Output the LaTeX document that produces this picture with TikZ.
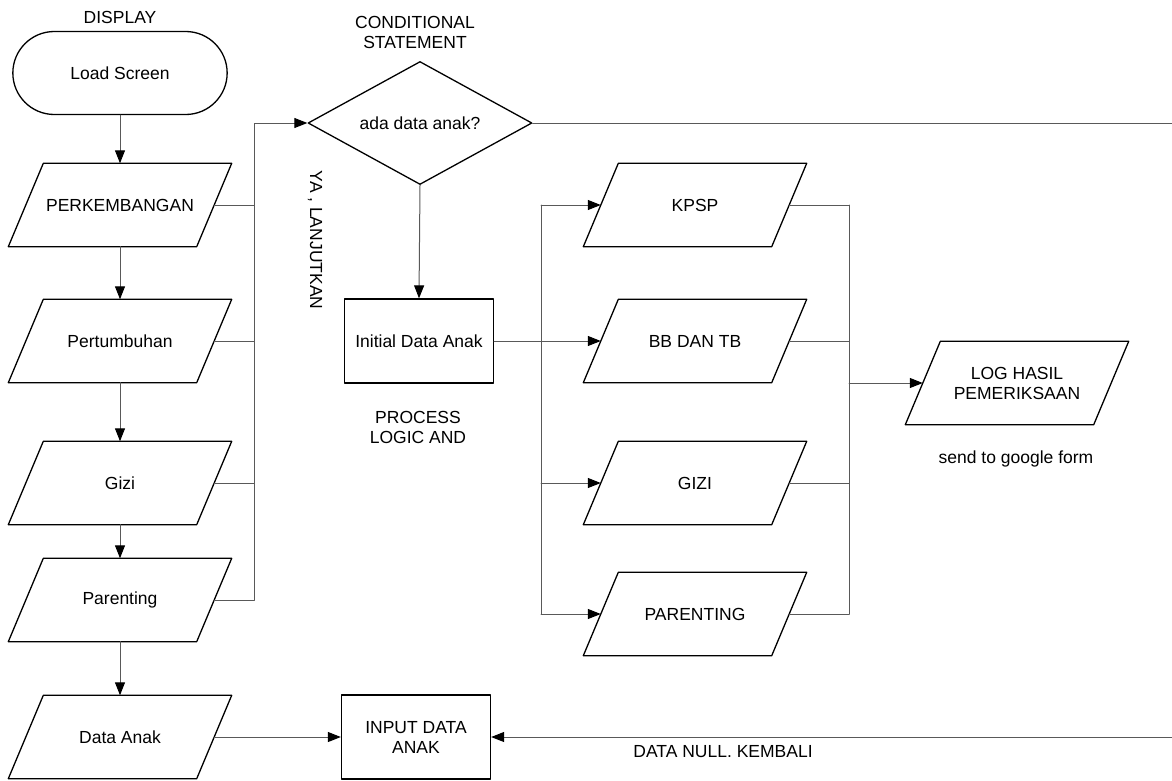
\documentclass[tikz,border=0pt]{standalone}
\usepackage{fontspec}
\setmainfont{Liberation Sans}
\usetikzlibrary{arrows.meta,shapes.geometric,shapes.misc}

\begin{document}
\begin{tikzpicture}[line cap=round,line join=round,>={Triangle[length=13pt,width=10pt]},x=1pt,y=-1pt,
    font=\fontsize{17.5}{20}\selectfont,
    every node/.style={align=center},
    term/.style={draw,line width=1.3pt,rounded rectangle,minimum width=221pt,minimum height=83pt},
    io/.style={minimum width=188pt,minimum height=83pt,
      append after command={\pgfextra{\draw[line width=1.3pt]
        ([xshift=17.5pt]\tikzlastnode.north west) -- ([xshift=17.5pt]\tikzlastnode.north east)
        -- ([xshift=-17.5pt]\tikzlastnode.south east) -- ([xshift=-17.5pt]\tikzlastnode.south west) -- cycle;}}},
    proc/.style={draw,line width=1.3pt,rectangle,minimum width=149pt,minimum height=84pt},
    cond/.style={draw,line width=1.3pt,diamond,aspect=1.8,minimum width=224pt,minimum height=123pt,inner sep=0pt},
    link/.style={color=black!65,line width=1pt},
    tip/.style={link,-{Triangle[length=13pt,width=10pt,color=black]}}]
    \useasboundingbox (0,0) rectangle (1172,780);
    \node (disp) at (120,17) {DISPLAY};
    \node[term] (load) at (120,73) {Load Screen};
    \node[io] (perk) at (120,205) {PERKEMBANGAN};
    \node[io] (tumbuh) at (120,341) {Pertumbuhan};
    \node[io] (gizi) at (120,483) {Gizi};
    \node[io] (parent) at (120,600) {Parenting};
    \node[io] (data) at (120,737) {Data Anak};
    \node (condlbl) at (415,32) {CONDITIONAL\\STATEMENT};
    \node[cond] (cek) at (420,123) {ada data anak?};
    \node[rotate=-90] (ya) at (315,240) {YA , LANJUTKAN};
    \node[proc] (init) at (419,341) {Initial Data Anak};
    \node (proclbl) at (418,427) {PROCESS\\LOGIC AND};
    \node[io] (kpsp) at (695,205) {KPSP};
    \node[io] (bbtb) at (695,341) {BB DAN TB};
    \node[io] (gizi2) at (695,483) {GIZI};
    \node[io] (parent2) at (695,614) {PARENTING};
    \node[io] (log) at (1017,383) {LOG HASIL\\PEMERIKSAAN};
    \node (kirim) at (1016,459) {send to google form};
    \node[proc] (input) at (416,737) {INPUT DATA\\ANAK};
    \node (null) at (723,752) {DATA NULL. KEMBALI};
    \coordinate (lt) at (254,123);
    \coordinate (sp) at (541,205);
    \coordinate (jn) at (849,205);
    \coordinate (rt) at (1190,123);
    \foreach \a/\b in {load/perk,perk/tumbuh,tumbuh/gizi,gizi/parent,parent/data}
    \draw[tip] (\a.south) -- (\b.north);
    \foreach \n in {perk,tumbuh,gizi}
    \draw[link] (\n.east) -- (\n.east -| lt);
    \draw[tip] (parent.east) -| (lt) -- (cek.west);
    \draw[tip] (cek.south) -- (init.north);
    \draw[link] (init.east) -- (init.east -| sp);
    \draw[link] (sp) -- (sp |- parent2.west);
    \foreach \n in {kpsp,bbtb,gizi2,parent2}
    \draw[tip] (\n.west -| sp) -- (\n.west);
    \draw[link] (jn) -- (jn |- parent2.east);
    \foreach \n in {kpsp,bbtb,gizi2,parent2}
    \draw[link] (\n.east) -- (\n.east -| jn);
    \draw[tip] (log.west -| jn) -- (log.west);
    \draw[tip] (data.east) -- (input.west);
    \draw[tip] (cek.east) -- (cek.east -| rt) |- (input.east);
\end{tikzpicture}
\end{document}
